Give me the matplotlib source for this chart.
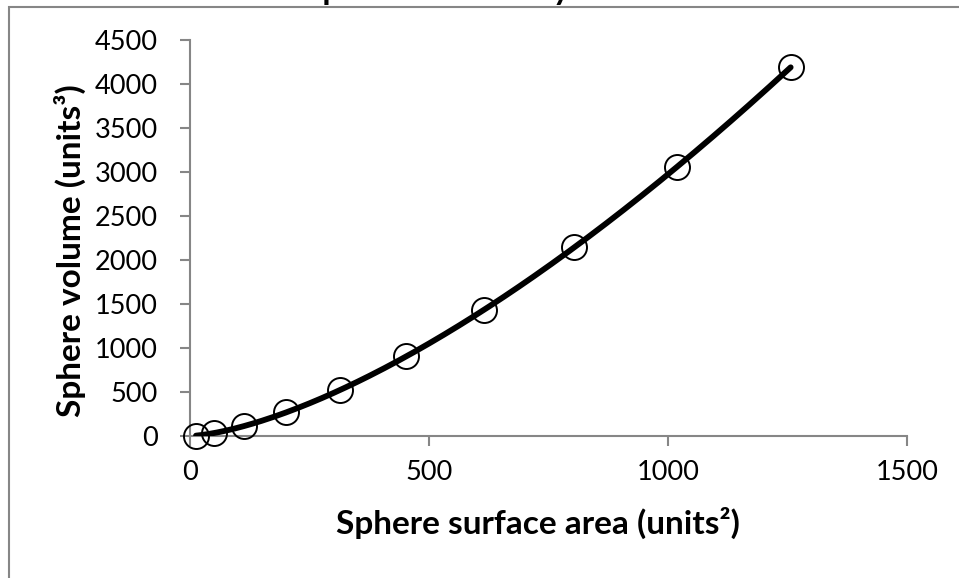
import numpy as np
import matplotlib
matplotlib.use("Agg")
import matplotlib.pyplot as plt
from matplotlib.patches import Rectangle

# sphere surface area vs volume (radius 1..10)
surface_area = [12.6, 50.3, 113.1, 201.1, 314.2, 452.4, 615.8, 804.2, 1017.9, 1256.6]
volume = [4.2, 33.5, 113.1, 268.1, 523.6, 904.8, 1436.8, 2144.7, 3053.6, 4188.8]
x_ticks = [0, 500, 1000, 1500]
y_ticks = [0, 500, 1000, 1500, 2000, 2500, 3000, 3500, 4000, 4500]

plt.rcParams["font.family"] = ["Lato", "DejaVu Sans"]
grey = "#868686"

fig = plt.figure(figsize=(9.59, 5.78), dpi=100)
ax = fig.add_axes([190 / 959, 1 - 436 / 578, (907 - 190) / 959, (436 - 40) / 578])

# power trendline fitted to the points
b, log_a = np.polyfit(np.log(surface_area), np.log(volume), 1)
xs = np.linspace(surface_area[0], surface_area[-1], 200)
ax.plot(xs, np.exp(log_a) * xs ** b, color="black", lw=4.2, solid_capstyle="round", zorder=3)
ax.plot(surface_area, volume, "o", ms=18, mfc="none", mec="black", mew=1.4, zorder=4, clip_on=False)

ax.set_xlim(0, 1500)
ax.set_ylim(0, 4500)
ax.set_xticks(x_ticks)
ax.set_yticks(y_ticks)
ax.tick_params(labelsize=19.5, colors=grey, labelcolor="black", length=7, width=1.5)
ax.tick_params(axis="x", pad=10)
ax.tick_params(axis="y", pad=16)
for s in ["top", "right"]:
    ax.spines[s].set_visible(False)
for s in ["left", "bottom"]:
    ax.spines[s].set_color(grey)
    ax.spines[s].set_linewidth(1.5)

ax.set_xlabel("Sphere surface area (units²)", fontsize=24, fontweight="bold", va="center")
ax.xaxis.set_label_coords(0.485, (436 - 523) / 396)
ax.set_ylabel("Sphere volume (units³)", fontsize=24, fontweight="bold", va="center")
ax.yaxis.set_label_coords((70 - 190) / 717, (436 - 251) / 396)

# chart-area border, partly cut off by the crop
fig.patches.append(Rectangle((9 / 959, -0.1), 1.2, 1.1 - 7 / 578, transform=fig.transFigure,
                             fill=False, edgecolor=grey, lw=1.5))
# title sits above the cropped area, only its descenders show
fig.text(0.554, 1.0, "Sphere volume by surface area", ha="center", va="baseline",
         fontsize=24, fontweight="bold")

fig.savefig("out.png", dpi=100)
